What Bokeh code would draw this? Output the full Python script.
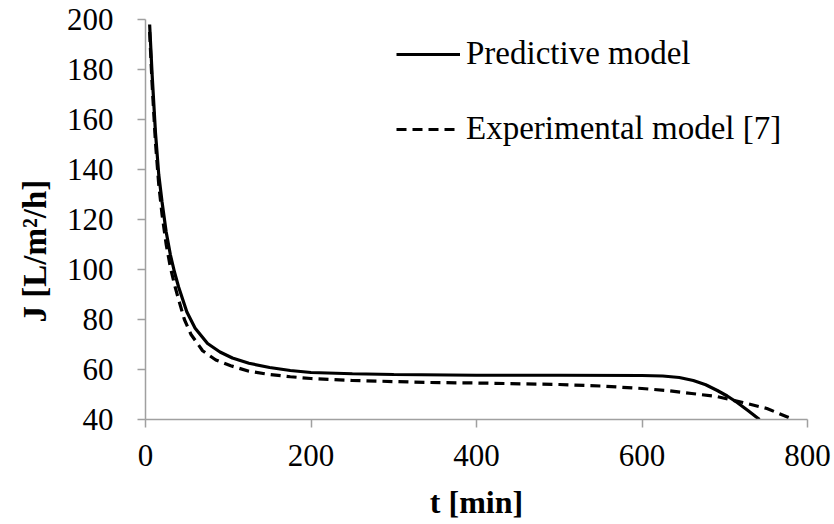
from bokeh.plotting import figure
from bokeh.models import (Range1d, FixedTicker, Legend, LegendItem, Title)
from bokeh.embed import file_html
from bokeh.resources import INLINE

# ---- data ----
t_pred = [5, 8, 12, 16, 20, 25, 30, 35, 40, 50, 60, 75, 90, 105, 125, 150, 175,
          200, 250, 300, 400, 500, 600, 625, 645, 662, 677, 691, 703, 715, 728, 742]
j_pred = [198, 178, 155, 138, 127, 115, 106, 99, 93, 83, 76.5, 70.4, 67, 64.6,
          62.5, 60.8, 59.6, 58.8, 58.3, 58, 57.7, 57.7, 57.6, 57.4, 56.8, 55.6,
          53.9, 51.6, 49.4, 46.8, 43.6, 40]

t_exp = [5, 8, 12, 16, 20, 25, 30, 35, 40, 47, 55, 69, 85, 103, 125, 150, 175,
         200, 250, 344, 400, 500, 550, 600, 630, 660, 690, 722, 751, 783]
j_exp = [195, 174, 151, 134, 122, 110, 101, 94, 88, 80, 74, 67.5, 63.8, 61.5,
         59.3, 58, 57.1, 56.4, 55.6, 54.8, 54.6, 54, 53.4, 52.4, 51.6, 50.4, 49.2,
         46.8, 44.4, 40]

x_ticks = [0, 200, 400, 600, 800]
y_ticks = [40, 60, 80, 100, 120, 140, 160, 180, 200]

FONT = "Liberation Serif"
AXIS_COLOR = "#a0a0a0"

p = figure(width=834, height=524, output_backend="svg", toolbar_location=None,
           x_range=Range1d(0, 800), y_range=Range1d(40, 200),
           min_border_left=145, min_border_right=27,
           min_border_top=19, min_border_bottom=105)
p.outline_line_color = None
p.xgrid.visible = False
p.ygrid.visible = False
p.background_fill_color = "white"
p.border_fill_color = "white"

r1 = p.line(t_pred, j_pred, line_color="black", line_width=3.2)
r2 = p.line(t_exp, j_exp, line_color="black", line_width=3.2, line_dash="10 6")

for ax in (p.xaxis[0], p.yaxis[0]):
    ax.axis_line_color = AXIS_COLOR
    ax.axis_line_width = 1.5
    ax.major_tick_line_color = AXIS_COLOR
    ax.major_tick_line_width = 1.5
    ax.major_tick_in = 0
    ax.major_tick_out = 8
    ax.minor_tick_line_color = None
    ax.major_label_text_font = FONT
    ax.major_label_text_font_size = "31px"
    ax.major_label_text_color = "black"

p.xaxis.ticker = FixedTicker(ticks=x_ticks)
p.yaxis.ticker = FixedTicker(ticks=y_ticks)
p.xaxis.major_label_standoff = 17
p.yaxis.major_label_standoff = 24

p.xaxis.axis_label = "t [min]"
p.xaxis.axis_label_text_font = FONT
p.xaxis.axis_label_text_font_size = "32px"
p.xaxis.axis_label_text_font_style = "bold"
p.xaxis.axis_label_text_color = "black"
p.xaxis.axis_label_standoff = 15

ytitle = Title(text="J [L/m\u00b2/h]", align="left", offset=97, standoff=21,
               text_font=FONT, text_font_size="33px", text_font_style="bold",
               text_color="black")
p.add_layout(ytitle, "left")

legend = Legend(items=[LegendItem(label="Predictive model", renderers=[r1]),
                       LegendItem(label="Experimental model [7]", renderers=[r2])],
                location=(251, 272), orientation="vertical",
                glyph_width=64, glyph_height=20, label_standoff=6,
                spacing=38, padding=0, margin=0,
                border_line_color=None, background_fill_alpha=0,
                label_text_font=FONT, label_text_font_size="33px",
                label_text_color="black")
p.add_layout(legend)

open("out.html", "w").write(file_html(p, INLINE))
